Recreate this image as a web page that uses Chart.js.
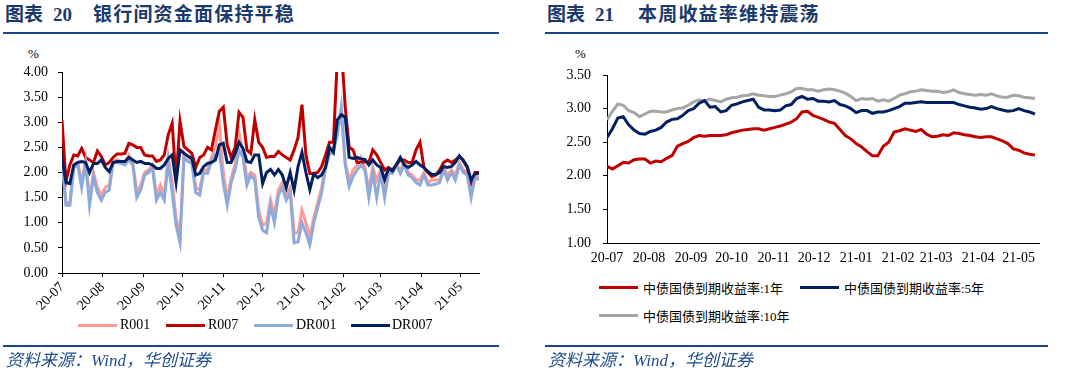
<!DOCTYPE html>
<html>
<head>
<meta charset="utf-8">
<script src="https://cdn.jsdelivr.net/npm/chart.js"></script>
<style>
  body { margin: 0; width: 1073px; height: 375px; background: #fff; position: relative; overflow: hidden;
         font-family: 'Liberation Serif', 'Noto Sans CJK SC', serif; }
  .title { position: absolute; top: 4px; height: 22px; font-size: 19px; line-height: 22px; font-weight: bold; color: #1b3a6b; white-space: nowrap; }
  .title .main { letter-spacing: 1.2px; }
  .rule { position: absolute; height: 2px; background: #1a4684; }
  .source { position: absolute; top: 352px; font-size: 17px; line-height: 18px; font-style: italic; color: #1f4e8c; white-space: nowrap; }
  .unit { position: absolute; top: 47px; font-size: 13px; line-height: 14px; color: #000; }
  canvas { position: absolute; }
  .legend { position: absolute; font-size: 14px; color: #000; }
  .legend .item { position: absolute; display: flex; align-items: center; white-space: nowrap; height: 16px; }
  .legend .swatch { width: 39px; height: 3px; }
  #bondLegend { font-size: 13px; }
</style>
</head>
<body>

<div class="title" style="left:5px"><span>图表</span><span style="margin-left:10px">20</span><span class="main" style="margin-left:21px">银行间资金面保持平稳</span></div>
<div class="rule" style="left:3px; top:32px; width:496px"></div>
<div class="unit" style="left:28px">%</div>
<canvas id="moneyChart" width="500" height="280" style="left:0; top:40px"></canvas>
<div class="legend" id="moneyLegend"></div>
<div class="rule" style="left:3px; top:345px; width:496px"></div>
<div class="source" style="left:6px">资料来源：Wind，华创证券</div>

<div class="title" style="left:547px"><span>图表</span><span style="margin-left:10px">21</span><span class="main" style="margin-left:24px">本周收益率维持震荡</span></div>
<div class="rule" style="left:545px; top:32px; width:503px"></div>
<div class="unit" style="left:575px">%</div>
<canvas id="bondChart" width="510" height="230" style="left:545px; top:40px"></canvas>
<div class="legend" id="bondLegend"></div>
<div class="rule" style="left:545px; top:345px; width:503px"></div>
<div class="source" style="left:548px">资料来源：Wind，华创证券</div>

<script>
// month tick labels (both charts)
const monthLabels = ['20-07', '20-08', '20-09', '20-10', '20-11', '20-12', '21-01', '21-02', '21-03', '21-04', '21-05']

// interbank rates, one reading every 3 calendar days from 2020-07-01
const moneyStep = 3
const r001 = [2.3, 1.4, 1.4, 2.15, 2.2, 1.8, 2.25, 1.45, 2.0, 1.7,
  1.55, 1.7, 1.75, 2.22, 2.25, 2.22, 2.2, 2.35, 2.2, 1.6,
  1.75, 2.0, 2.05, 2.15, 1.55, 1.75, 1.55, 2.3, 1.8, 1.1,
  0.75, 2.4, 2.3, 2.25, 1.7, 1.65, 2.05, 2.05, 2.3, 2.5,
  2.95, 2.0, 1.45, 1.9, 2.15, 2.8, 2.4, 1.9, 2.0, 1.95,
  1.25, 0.95, 1.0, 1.45, 1.15, 1.65, 1.8, 1.55, 1.7, 0.8,
  0.8, 1.25, 1.0, 0.7, 1.1, 1.4, 1.7, 2.15, 2.4, 2.5,
  2.8, 3.2, 2.2, 1.85, 2.05, 2.15, 2.3, 2.1, 1.65, 2.1,
  1.85, 2.05, 1.6, 2.05, 2.0, 2.15, 2.05, 2.2, 2.0, 1.95,
  1.85, 1.85, 2.0, 1.8, 1.85, 1.85, 1.85, 2.1, 1.95, 2.05,
  1.95, 2.2, 2.05, 2.0, 1.6, 1.95, 1.9]
const r007 = [3.05, 1.82, 2.15, 2.35, 2.33, 2.48, 2.3, 2.25, 2.2, 2.43,
  2.32, 2.15, 2.2, 2.3, 2.37, 2.37, 2.38, 2.58, 2.55, 2.5,
  2.5, 2.35, 2.33, 2.33, 2.22, 2.25, 2.35, 2.75, 2.98, 1.85,
  3.02, 2.52, 2.45, 2.38, 2.1, 2.3, 2.35, 2.5, 2.45, 2.85,
  3.22, 3.3, 2.55, 2.3, 2.5, 3.2, 3.1, 2.45, 2.38, 3.05,
  2.6, 2.5, 2.3, 2.32, 2.32, 2.42, 2.35, 2.3, 2.25, 2.45,
  2.7, 3.35, 2.35, 1.98, 1.98, 2.0, 2.12, 2.35, 2.6, 2.6,
  4.3, 4.5, 3.3, 2.5, 2.45, 2.2, 2.2, 2.22, 2.2, 2.45,
  2.35, 2.2, 2.05, 2.1, 2.05, 2.15, 2.25, 2.25, 2.2, 2.2,
  2.45, 2.6, 2.1, 2.0, 1.92, 1.95, 2.05, 2.2, 2.25, 2.2,
  2.25, 2.32, 2.25, 2.1, 1.8, 2.0, 2.0]
const dr001 = [2.25, 1.35, 1.35, 2.1, 2.15, 1.7, 2.2, 1.35, 1.92, 1.6,
  1.45, 1.6, 1.65, 2.2, 2.2, 2.18, 2.15, 2.25, 2.15, 1.5,
  1.65, 1.95, 2.0, 2.1, 1.45, 1.6, 1.45, 2.2, 1.6, 0.95,
  0.6, 2.3, 2.22, 2.18, 1.6, 1.55, 2.0, 1.98, 2.22, 2.35,
  2.4, 1.8, 1.35, 1.8, 2.05, 2.45, 2.3, 1.75, 1.95, 1.85,
  1.1, 0.85, 0.8, 1.35, 1.0, 1.55, 1.7, 1.45, 1.6, 0.6,
  0.62, 1.0, 0.8, 0.56, 1.0, 1.3, 1.6, 2.1, 2.35, 2.42,
  2.75, 3.3, 2.15, 1.72, 1.92, 2.05, 2.15, 2.05, 1.5, 2.0,
  1.5, 2.0, 1.5, 2.0, 1.98, 2.15, 1.98, 2.15, 1.95, 1.9,
  1.8, 1.75, 1.95, 1.75, 1.75, 1.77, 1.8, 2.05, 1.85, 2.0,
  1.85, 2.15, 2.0, 1.95, 1.5, 1.9, 1.85]
const dr007 = [2.3, 1.8, 1.78, 2.15, 2.2, 2.22, 2.2, 2.0, 2.18, 2.18,
  2.25, 2.1, 2.02, 2.2, 2.22, 2.22, 2.22, 2.3, 2.25, 2.2,
  2.22, 2.18, 2.18, 2.15, 2.08, 2.08, 2.15, 2.28, 2.35, 1.8,
  2.45, 2.38, 2.33, 2.28, 1.95, 1.98, 2.12, 2.18, 2.2, 2.25,
  2.55, 2.58, 2.2, 2.2, 2.38, 2.6, 2.48, 2.22, 2.2, 2.35,
  2.35, 1.78, 2.0, 2.06, 1.95, 2.06, 1.95, 1.7, 2.0, 1.65,
  2.12, 2.4, 2.0, 1.66, 1.97, 1.9, 1.95, 2.1, 2.5, 2.4,
  3.05, 3.15, 3.1, 2.3, 2.28, 2.3, 2.27, 2.26, 2.15, 2.25,
  2.15, 2.1, 1.86, 2.08, 2.03, 2.16, 2.3, 2.15, 2.1, 2.15,
  2.22, 2.15, 2.1, 2.02, 1.96, 1.96, 2.0, 2.12, 2.1, 2.12,
  2.2, 2.33, 2.23, 2.12, 1.85, 1.98, 1.98]

// treasury yields, one reading every 4 calendar days from 2020-07-01
const bondStep = 4
const cgb1y = [2.14, 2.1, 2.15, 2.2, 2.19, 2.24, 2.25, 2.25, 2.19, 2.22,
  2.21, 2.26, 2.3, 2.44, 2.48, 2.51, 2.57, 2.6, 2.59, 2.6,
  2.6, 2.6, 2.61, 2.64, 2.66, 2.68, 2.69, 2.7, 2.7, 2.68,
  2.7, 2.72, 2.74, 2.77, 2.8, 2.85, 2.95, 2.96, 2.9, 2.87,
  2.84, 2.8, 2.78, 2.69, 2.6, 2.55, 2.48, 2.43, 2.36, 2.3,
  2.3, 2.44, 2.5, 2.65, 2.67, 2.7, 2.68, 2.66, 2.69, 2.62,
  2.58, 2.59, 2.61, 2.6, 2.64, 2.63, 2.61, 2.6, 2.58, 2.57,
  2.58, 2.58, 2.55, 2.52, 2.48, 2.4, 2.38, 2.34, 2.32, 2.31]
const cgb5y = [2.57, 2.7, 2.86, 2.88, 2.76, 2.68, 2.63, 2.62, 2.66, 2.68,
  2.72, 2.8, 2.84, 2.85, 2.9, 2.97, 3.0, 3.08, 3.12, 3.02,
  3.03, 2.95, 2.97, 3.05, 3.07, 3.1, 3.12, 3.14, 3.02, 2.98,
  2.98, 2.97, 2.98, 3.04, 3.06, 3.15, 3.18, 3.14, 3.15, 3.11,
  3.11, 3.1, 3.12, 3.06, 3.04, 3.0, 2.94, 2.97, 2.97, 2.93,
  2.95, 2.95, 2.97, 3.0, 3.03, 3.08, 3.08, 3.09, 3.1, 3.09,
  3.09, 3.09, 3.09, 3.09, 3.09, 3.06, 3.04, 3.02, 3.01, 2.99,
  3.0, 3.03, 3.0, 2.98, 2.96, 2.97, 3.0, 2.97, 2.95, 2.92]
const cgb10y = [2.83, 2.96, 3.07, 3.05, 2.97, 2.94, 2.88, 2.92, 2.96, 2.96,
  2.95, 2.95, 2.98, 3.0, 3.01, 3.05, 3.1, 3.13, 3.11, 3.14,
  3.12, 3.1, 3.14, 3.16, 3.17, 3.19, 3.2, 3.22, 3.2, 3.19,
  3.18, 3.18, 3.2, 3.22, 3.25, 3.3, 3.3, 3.28, 3.28, 3.26,
  3.28, 3.29, 3.28, 3.26, 3.23, 3.18, 3.12, 3.15, 3.14, 3.15,
  3.11, 3.13, 3.11, 3.15, 3.2, 3.22, 3.25, 3.26, 3.28, 3.27,
  3.26, 3.26, 3.24, 3.25, 3.28, 3.24, 3.22, 3.21, 3.2, 3.21,
  3.2, 3.22, 3.19, 3.17, 3.17, 3.2, 3.19, 3.17, 3.16, 3.15]

// day offsets of each month start, counted from 2020-07-01
const startDay = Date.UTC(2020, 6, 1)
const monthDays = monthLabels.map(m => {
  const [yy, mm] = m.split('-').map(Number)
  return (Date.UTC(2000 + yy, mm - 1, 1) - startDay) / 86400000
})

const serif = { family: 'Liberation Serif', size: 14 }

function toPoints(values, step) {
  return values.map((v, i) => ({ x: i * step, y: v }))
}

function line(label, values, step, color, width, order) {
  return {
    label: label,
    data: toPoints(values, step),
    borderColor: color,
    backgroundColor: color,
    borderWidth: width,
    pointRadius: 0,
    tension: 0,
    order: order
  }
}

function buildChart(id, datasets, o) {
  return new Chart(id, {
    type: 'line',
    data: { datasets: datasets },
    options: {
      responsive: false,
      animation: false,
      devicePixelRatio: 1,
      layout: { padding: o.padding },
      plugins: { legend: { display: false }, tooltip: { enabled: false } },
      scales: {
        x: {
          type: 'linear',
          min: 0,
          max: o.xMax,
          afterBuildTicks: s => { s.ticks = monthDays.map(v => ({ value: v })) },
          afterFit: s => { s.height = o.xHeight },
          ticks: {
            autoSkip: false,
            minRotation: o.rotation,
            maxRotation: o.rotation,
            padding: o.xPad,
            color: '#000',
            font: serif,
            callback: (v, i) => monthLabels[i]
          },
          grid: { drawOnChartArea: false, drawTicks: o.xTicks, tickLength: 4, color: '#000' },
          border: { color: '#000', width: 1 }
        },
        y: {
          min: o.yMin,
          max: o.yMax,
          afterFit: s => { s.width = 62 },
          ticks: {
            stepSize: 0.5,
            padding: o.yPad,
            color: '#000',
            font: serif,
            callback: v => v.toFixed(2)
          },
          grid: { drawOnChartArea: false, tickLength: 4, color: '#000' },
          border: { color: '#000', width: 1 }
        }
      }
    }
  })
}

// html legend built from the chart's own datasets
function buildLegend(chart, boxId, spots) {
  const box = document.getElementById(boxId)
  chart.data.datasets.forEach((ds, i) => {
    const item = document.createElement('div')
    item.className = 'item'
    item.style.left = spots[i][0] + 'px'
    item.style.top = spots[i][1] + 'px'
    item.innerHTML = '<span class="swatch" style="background:' + ds.borderColor + '"></span>' +
      '<span style="margin-left:' + spots[i][2] + 'px">' + ds.label + '</span>'
    box.appendChild(item)
  })
}

const moneyChart = buildChart('moneyChart', [
  line('R001', r001, moneyStep, '#ff9b93', 3, 4),
  line('R007', r007, moneyStep, '#c00000', 3, 3),
  line('DR001', dr001, moneyStep, '#8eaadc', 3, 2),
  line('DR007', dr007, moneyStep, '#002060', 3, 1)
], { padding: { top: 32, right: 21, bottom: 0, left: 0 }, xMax: 318, xHeight: 47, rotation: 45, xPad: 2, xTicks: true, yMin: 0, yMax: 4, yPad: 10 })

buildLegend(moneyChart, 'moneyLegend', [[78, 317, 3], [166, 317, 3], [254, 317, 3], [351, 317, 2]])

const bondChart = buildChart('bondChart', [
  line('中债国债到期收益率:1年', cgb1y, bondStep, '#c00000', 3, 1),
  line('中债国债到期收益率:5年', cgb5y, bondStep, '#002060', 3, 2),
  line('中债国债到期收益率:10年', cgb10y, bondStep, '#a6a6a6', 3, 3)
], { padding: { top: 35, right: 16, bottom: 0, left: 0 }, xMax: 319, xHeight: 27, rotation: 0, xPad: 7, xTicks: false, yMin: 1, yMax: 3.5, yPad: 12 })

buildLegend(bondChart, 'bondLegend', [[599, 279, 5], [800, 279, 5], [599, 307, 5]])
</script>
</body>
</html>
